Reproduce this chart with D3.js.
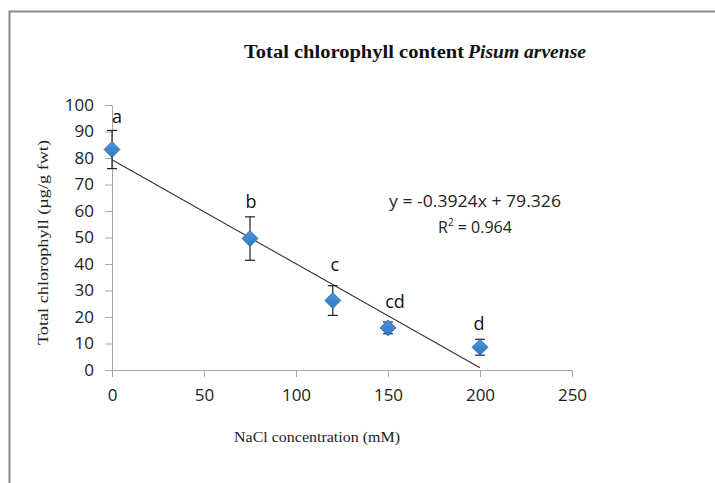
<!DOCTYPE html>
<html><head><meta charset="utf-8">
<script src="https://cdn.jsdelivr.net/npm/d3@7"></script>
<style>body{margin:0;background:#fff}svg{display:block}</style>
</head><body>
<script>
const concentrations = [0, 75, 120, 150, 200];
const chlorophyll = [83.2, 49.6, 26.2, 15.9, 8.6];
const errors = [7.2, 8.2, 5.6, 2.2, 3.0];
const letters = ["a", "b", "c", "cd", "d"];
const xTicks = [0, 50, 100, 150, 200, 250];
const yTicks = [0, 10, 20, 30, 40, 50, 60, 70, 80, 90, 100];
const slope = -0.3924, intercept = 79.326, r2 = "0.964";

const W = 715, H = 483;
const svg = d3.select("body").append("svg").attr("width", W).attr("height", H);

// frame
svg.append("path").attr("d", `M9.5,${H} L9.5,11.5 L${W},11.5`)
  .attr("fill", "none").attr("stroke", "#888").attr("stroke-width", 2);

const x = d3.scaleLinear().domain([0, 250]).range([112, 572]);
const y = d3.scaleLinear().domain([0, 100]).range([370, 105]);

const tickFont = "'Open Sans', 'Liberation Sans', sans-serif";
const serif = "'Liberation Serif', 'Times New Roman', serif";

// y axis
const gy = svg.append("g").attr("transform", `translate(${x(0)},0)`)
  .call(d3.axisLeft(y).tickValues(yTicks).tickSize(7).tickPadding(11).tickSizeOuter(0));
gy.select(".domain").attr("stroke", "#a6a6a6");
gy.selectAll(".tick line").attr("stroke", "#a6a6a6");
gy.selectAll(".tick text").attr("font-family", tickFont).attr("font-size", 17).attr("fill", "#222");

// x axis
const gx = svg.append("g").attr("transform", `translate(0,${y(0)})`)
  .call(d3.axisBottom(x).tickValues(xTicks).tickSize(7).tickPadding(12).tickSizeOuter(0));
gx.select(".domain").attr("stroke", "#a6a6a6");
gx.selectAll(".tick line").attr("stroke", "#a6a6a6");
gx.selectAll(".tick text").attr("font-family", tickFont).attr("font-size", 17).attr("fill", "#222");

// trendline
const xEnd = 200;
svg.append("line")
  .attr("x1", x(0)).attr("y1", y(intercept))
  .attr("x2", x(xEnd)).attr("y2", y(Math.max(0, slope * xEnd + intercept)))
  .attr("stroke", "#333").attr("stroke-width", 1.1);

// error bars
const data = concentrations.map((c, i) => ({c, v: chlorophyll[i], e: errors[i], l: letters[i]}));
const eb = svg.append("g").attr("stroke", "#222").attr("stroke-width", 1.2);
data.forEach(d => {
  eb.append("line").attr("x1", x(d.c)).attr("x2", x(d.c)).attr("y1", y(d.v + d.e)).attr("y2", y(d.v - d.e));
  eb.append("line").attr("x1", x(d.c) - 5).attr("x2", x(d.c) + 5).attr("y1", y(d.v + d.e)).attr("y2", y(d.v + d.e));
  eb.append("line").attr("x1", x(d.c) - 5).attr("x2", x(d.c) + 5).attr("y1", y(d.v - d.e)).attr("y2", y(d.v - d.e));
});

// diamond markers
const defs = svg.append("defs");
const grad = defs.append("linearGradient").attr("id", "dg").attr("x1", 0).attr("y1", 0).attr("x2", 0).attr("y2", 1);
grad.append("stop").attr("offset", "0%").attr("stop-color", "#4a95dc");
grad.append("stop").attr("offset", "100%").attr("stop-color", "#2f78c4");
svg.append("g").selectAll("path").data(data).join("path")
  .attr("transform", d => `translate(${x(d.c)},${y(d.v)})`)
  .attr("d", "M0,-8 L8,0 L0,8 L-8,0 Z")
  .attr("fill", "url(#dg)").attr("stroke", "#2a6cb0").attr("stroke-width", 0.8);

// letters (pixel nudges relative to the error-bar tops)
const letterDx = [5, 1, 2, 7, -1];
const letterDy = [-7, -9, -15, -14, -9];
svg.append("g").selectAll("text").data(data).join("text")
  .attr("x", (d, i) => x(d.c) + letterDx[i])
  .attr("y", (d, i) => y(d.v + d.e) + letterDy[i])
  .attr("text-anchor", "middle")
  .attr("font-family", tickFont).attr("font-size", 18).attr("fill", "#111")
  .text(d => d.l);

// equation
const eq = svg.append("g").attr("font-family", tickFont).attr("font-size", 16).attr("fill", "#222").attr("text-anchor", "middle");
eq.append("text").attr("x", 475).attr("y", 207).attr("textLength", 172).attr("lengthAdjust", "spacingAndGlyphs")
  .text(`y = ${slope}x + ${intercept}`);
const r = eq.append("text").attr("x", 475).attr("y", 233);
r.append("tspan").text("R");
r.append("tspan").attr("font-size", 10).attr("dy", -7).text("2");
r.append("tspan").attr("dy", 7).text(` = ${r2}`);

// title
const t = svg.append("text").attr("x", 244).attr("y", 58)
  .attr("font-family", serif).attr("font-size", 18)
  .attr("font-weight", "bold").attr("fill", "#111");
t.append("tspan").attr("textLength", 220).attr("lengthAdjust", "spacingAndGlyphs").text("Total chlorophyll  content");
t.append("tspan").attr("x", 468).attr("font-style", "italic").attr("textLength", 118).attr("lengthAdjust", "spacingAndGlyphs").text("Pisum arvense");

// axis labels
svg.append("text").attr("x", 234).attr("y", 442)
  .attr("font-family", serif).attr("font-size", 15).attr("fill", "#222")
  .attr("textLength", 166).attr("lengthAdjust", "spacingAndGlyphs")
  .text("NaCl concentration (mM)");
svg.append("text").attr("transform", "translate(48,345) rotate(-90)")
  .attr("font-family", serif).attr("font-size", 14).attr("fill", "#222")
  .attr("textLength", 205).attr("lengthAdjust", "spacingAndGlyphs")
  .text("Total chlorophyll (µg/g fwt)");
</script>
</body></html>
